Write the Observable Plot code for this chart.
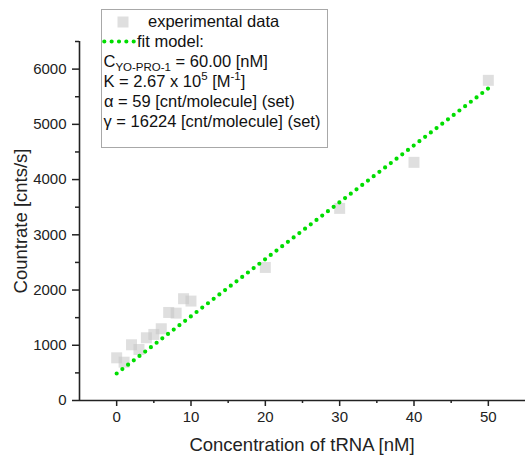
<!DOCTYPE html>
<html>
<head>
<meta charset="utf-8">
<script src="https://cdn.jsdelivr.net/npm/d3@7"></script>
<script src="https://cdn.jsdelivr.net/npm/@observablehq/plot@0.6"></script>
<style>
  html, body { margin: 0; padding: 0; background: #fff; }
  #chart svg { display: block; }
</style>
</head>
<body>
<div id="chart"></div>
<script>
// Experimental data
const concentration = [0, 1, 2, 3, 4, 5, 6, 7, 8, 9, 10, 20, 30, 40, 50];
const countrate = [773, 694, 1009, 924, 1136, 1196, 1299, 1594, 1582, 1843, 1800, 2409, 3478, 4312, 5797];

// Fit model curve
const fitConcentration = [0, 10, 20, 30, 40, 50];
const fitCountrate = [489, 1525, 2560, 3590, 4620, 5652];

// Axis ticks
const xMajorTicks = [0, 10, 20, 30, 40, 50];
const xMinorTicks = [5, 15, 25, 35, 45];
const yMajorTicks = [0, 1000, 2000, 3000, 4000, 5000, 6000];
const yMinorTicks = [500, 1500, 2500, 3500, 4500, 5500, 6500];

const xLabel = "Concentration of tRNA [nM]";
const yLabel = "Countrate [cnts/s]";

const expData = concentration.map((c, i) => ({x: c, y: countrate[i]}));
const fitData = fitConcentration.map((c, i) => ({x: c, y: fitCountrate[i]}));

const font = "'Liberation Sans', Arial, sans-serif";
const axisColor = "#222";
const green = "#00dd00";

const plot = Plot.plot({
  width: 525,
  height: 456,
  marginLeft: 79,
  marginRight: 0,
  marginTop: 41,
  marginBottom: 56,
  style: {fontFamily: font, fontSize: "15px", color: axisColor, background: "#fff"},
  x: {domain: [-5, 55]},
  y: {domain: [0, 6500]},
  marks: [
    Plot.dot(expData, {x: "x", y: "y", symbol: "square", r: 6.2, fill: "#c4c4c4", fillOpacity: 0.55, stroke: "none"}),
    Plot.line(fitData, {x: "x", y: "y", stroke: green, strokeWidth: 4.2, strokeDasharray: "0 7.2", strokeLinecap: "round"}),
    Plot.ruleY([0], {stroke: axisColor, strokeWidth: 1.6}),
    Plot.ruleX([-5], {stroke: axisColor, strokeWidth: 1.6}),
    Plot.axisX({ticks: xMajorTicks, tickSize: 6, tickPadding: 5, label: null, fontSize: 15, stroke: axisColor, strokeWidth: 1.5, tickFormat: d => String(d)}),
    Plot.axisX({ticks: xMinorTicks, tickSize: 3, label: null, stroke: axisColor, strokeWidth: 1.5, tickFormat: () => ""}),
    Plot.axisY({ticks: yMajorTicks, tickSize: 7, tickPadding: 6, label: null, fontSize: 15, stroke: axisColor, strokeWidth: 1.5, tickFormat: d => String(d)}),
    Plot.axisY({ticks: yMinorTicks, tickSize: 4, label: null, stroke: axisColor, strokeWidth: 1.5, tickFormat: () => ""})
  ]
});

document.getElementById("chart").appendChild(plot);

const svg = d3.select(plot);

// Axis titles
svg.append("text")
  .attr("x", 302).attr("y", 451)
  .attr("text-anchor", "middle")
  .attr("font-family", font).attr("font-size", 18.5).attr("fill", axisColor)
  .text(xLabel);

svg.append("text")
  .attr("transform", "translate(27,221) rotate(-90)")
  .attr("text-anchor", "middle")
  .attr("font-family", font).attr("font-size", 18.5).attr("fill", axisColor)
  .text(yLabel);

// Legend
const lg = svg.append("g").attr("font-family", font).attr("font-size", 16.5)
  .attr("fill", "#111").attr("text-anchor", "start");
lg.append("rect").attr("x", 101.5).attr("y", 9.5).attr("width", 226).attr("height", 138)
  .attr("fill", "#fff").attr("stroke", "#a8a8a8").attr("stroke-width", 1);
lg.append("rect").attr("x", 117.5).attr("y", 16.5).attr("width", 11).attr("height", 11)
  .attr("fill", "#c4c4c4").attr("fill-opacity", 0.55);
lg.append("line").attr("x1", 104.3).attr("x2", 134).attr("y1", 41.5).attr("y2", 41.5)
  .attr("stroke", green).attr("stroke-width", 4.2).attr("stroke-dasharray", "0 7.35").attr("stroke-linecap", "round");
lg.append("text").attr("x", 148).attr("y", 27).text("experimental data");
lg.append("text").attr("x", 137).attr("y", 47).text("fit model:");

const t1 = lg.append("text").attr("x", 103.5).attr("y", 67);
t1.append("tspan").text("C");
t1.append("tspan").attr("font-size", 11.5).attr("dy", 4).text("YO-PRO-1");
t1.append("tspan").attr("dy", -4).text(" = 60.00 [nM]");

const t2 = lg.append("text").attr("x", 103.5).attr("y", 87);
t2.append("tspan").text("K = 2.67 x 10");
t2.append("tspan").attr("font-size", 11.5).attr("dy", -7).text("5");
t2.append("tspan").attr("dy", 7).text(" [M");
t2.append("tspan").attr("font-size", 11.5).attr("dy", -7).text("-1");
t2.append("tspan").attr("dy", 7).text("]");

lg.append("text").attr("x", 104).attr("y", 107).text("α = 59 [cnt/molecule] (set)");
lg.append("text").attr("x", 103.5).attr("y", 127).text("γ = 16224 [cnt/molecule] (set)");
</script>
</body>
</html>
